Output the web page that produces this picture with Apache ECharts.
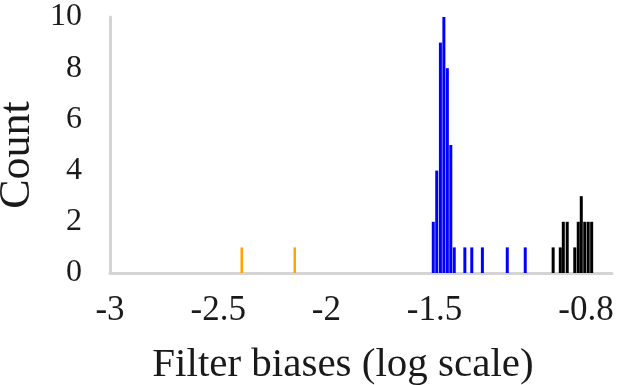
<!DOCTYPE html>
<html>
<head>
<meta charset="utf-8">
<script src="https://cdn.jsdelivr.net/npm/echarts@6/dist/echarts.min.js"></script>
<style>html,body{margin:0;padding:0;background:#fff}#c{width:622px;height:385px}</style>
</head>
<body>
<div id="c"></div>
<script>
// Data
var orangeX = [-2.39, -2.145];
var orangeCount = [1, 1];
var blueX = [-1.506, -1.490, -1.473, -1.457, -1.441, -1.425, -1.409, -1.360, -1.328, -1.279, -1.164, -1.081];
var blueCount = [2, 4, 9, 10, 8, 5, 1, 1, 1, 1, 1, 1];
var blackX = [-0.952, -0.919, -0.905, -0.887, -0.852, -0.836, -0.822, -0.806, -0.790, -0.774];
var blackCount = [1, 1, 2, 2, 1, 2, 3, 2, 2, 2];
var xTickLabels = [-3, -2.5, -2, -1.5, -0.8];
var yTickLabels = [0, 2, 4, 6, 8, 10];

function pairs(xs, ys) { return xs.map(function (x, i) { return [x, ys[i]]; }); }

var font = 'Liberation Serif';
var chart = echarts.init(document.getElementById('c'));
chart.setOption({
  animation: false,
  backgroundColor: '#fff',
  grid: { left: 110, right: 10, top: 17, bottom: 112, containLabel: false, outerBoundsMode: 'none' },
  xAxis: {
    type: 'value',
    min: -3, max: -0.68,
    name: 'Filter biases (log scale)',
    nameLocation: 'middle',
    nameGap: 72,
    nameTextStyle: { fontFamily: font, fontSize: 41, color: '#1a1a1a', padding: [0, 36, 0, 0] },
    axisLine: { show: true, lineStyle: { color: '#d4d4d4', width: 3 } },
    axisTick: { show: false },
    splitLine: { show: false },
    axisLabel: {
      customValues: xTickLabels,
      margin: 20,
      fontFamily: font, fontSize: 35, color: '#1a1a1a',
      formatter: function (v) { return String(v); }
    }
  },
  yAxis: {
    type: 'value',
    min: yTickLabels[0], max: yTickLabels[yTickLabels.length - 1], interval: 2,
    name: 'Count',
    nameLocation: 'middle',
    nameGap: 67,
    nameRotate: 90,
    nameTextStyle: { fontFamily: font, fontSize: 44, color: '#1a1a1a', padding: [0, 20, 0, 0] },
    axisLine: { show: true, lineStyle: { color: '#d4d4d4', width: 3 } },
    axisTick: { show: false },
    splitLine: { show: false },
    axisLabel: { margin: 28, fontFamily: font, fontSize: 32, color: '#1a1a1a' }
  },
  series: [
    { type: 'bar', data: pairs(orangeX, orangeCount), barWidth: 2.5, barGap: '-100%', itemStyle: { color: '#FFA500' } },
    { type: 'bar', data: pairs(blueX, blueCount), barWidth: 3, barGap: '-100%', itemStyle: { color: '#0000FF' } },
    { type: 'bar', data: pairs(blackX, blackCount), barWidth: 3, barGap: '-100%', itemStyle: { color: '#000000' } }
  ]
});
</script>
</body>
</html>
